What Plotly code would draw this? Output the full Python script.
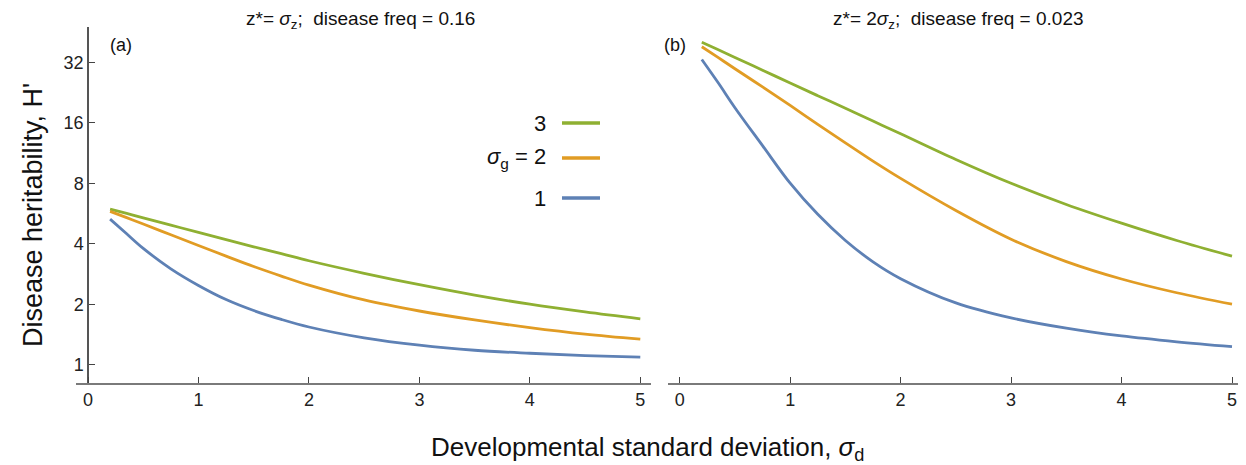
import math
import plotly.graph_objects as go

# ---------------- data ----------------
sigma_d = [0.2, 0.35, 0.5, 0.75, 1, 1.25, 1.5, 1.75, 2, 2.5, 3, 3.5, 4, 4.5, 5]

# panel (a): z* = sigma_z, disease freq = 0.16
a_g3 = [5.95, 5.66, 5.38, 4.95, 4.55, 4.19, 3.86, 3.57, 3.29, 2.85, 2.50, 2.22, 2.00, 1.83, 1.69]
a_g2 = [5.79, 5.39, 5.01, 4.43, 3.92, 3.47, 3.08, 2.76, 2.49, 2.10, 1.85, 1.67, 1.53, 1.42, 1.34]
a_g1 = [5.30, 4.48, 3.79, 3.00, 2.48, 2.11, 1.86, 1.68, 1.54, 1.36, 1.25, 1.18, 1.14, 1.11, 1.09]

# panel (b): z* = 2 sigma_z, disease freq = 0.023
b_g3 = [40.2, 36.9, 33.8, 29.2, 25.2, 21.8, 18.9, 16.3, 14.1, 10.5, 7.99, 6.27, 5.06, 4.15, 3.47]
b_g2 = [38.2, 33.7, 29.7, 24.1, 19.5, 15.7, 12.7, 10.3, 8.45, 5.85, 4.21, 3.26, 2.67, 2.28, 2.00]
b_g1 = [33.0, 25.2, 19.0, 12.3, 8.0, 5.6, 4.15, 3.25, 2.68, 2.03, 1.71, 1.52, 1.39, 1.30, 1.23]

x_ticks = [0, 1, 2, 3, 4, 5]
y_ticks = [1, 2, 4, 8, 16, 32]
legend_labels = ["3", "<i>σ</i><sub>g</sub> = 2", "1"]
colors = ["#8FB032", "#E19C24", "#5E81B5"]

titles = ["z*= <i>σ</i><sub>z</sub>;  disease freq = 0.16",
          "z*= 2<i>σ</i><sub>z</sub>;  disease freq = 0.023"]

W, H = 1246, 465
FONT = "Liberation Sans, Arial, sans-serif"

fig = go.Figure()

line_kw = dict(width=2.8, shape="spline", smoothing=1.0)
for series, col in zip([a_g3, a_g2, a_g1], colors):
    fig.add_trace(go.Scatter(x=sigma_d, y=series, mode="lines", line=dict(color=col, **line_kw),
                             xaxis="x", yaxis="y", showlegend=False, hoverinfo="skip"))
for series, col in zip([b_g3, b_g2, b_g1], colors):
    fig.add_trace(go.Scatter(x=sigma_d, y=series, mode="lines", line=dict(color=col, **line_kw),
                             xaxis="x2", yaxis="y2", showlegend=False, hoverinfo="skip"))

# geometry (pixels)
px_per_unit = 110.46
a_x0, b_x0 = 80.0, 671.7
y_bot, y_top = 374.5, 19
y_one, px_per_doubling = 356.7, 60.5
ylog_bot = math.log10(2 ** (-(y_bot - y_one) / px_per_doubling))
ylog_top = math.log10(2 ** ((y_one - y_top) / px_per_doubling))

def px(v):
    return v / W

def py(v):
    return 1 - v / H

xr = [-0.106, 5.095]
a_dom = [px(a_x0 + xr[0] * px_per_unit), px(a_x0 + xr[1] * px_per_unit)]
b_dom = [px(b_x0 + xr[0] * px_per_unit), px(b_x0 + xr[1] * px_per_unit)]
y_dom = [py(y_bot), py(y_top)]

axis_col = "#7a7a7a"
tick_font = dict(family=FONT, size=18, color="#222222")

common_x = dict(range=xr, tickvals=x_ticks, ticks="inside", ticklen=6, tickcolor="#444444", tickwidth=1,
                showline=True, linecolor=axis_col, linewidth=2, showgrid=False, zeroline=False,
                tickfont=tick_font)

fig.update_layout(
    width=W, height=H,
    margin=dict(l=0, r=0, t=0, b=0),
    plot_bgcolor="white", paper_bgcolor="white",
    xaxis=dict(domain=a_dom, anchor="y", **common_x),
    xaxis2=dict(domain=b_dom, anchor="y2", **common_x),
    yaxis=dict(domain=y_dom, type="log", range=[ylog_bot, ylog_top], anchor="free", position=px(a_x0),
               tickvals=y_ticks, ticktext=[str(t) for t in y_ticks], ticks="inside", ticklen=6,
               tickcolor="#444444", showline=True, linecolor="#555555", linewidth=1.5,
               showgrid=False, zeroline=False, tickfont=tick_font),
    yaxis2=dict(domain=y_dom, type="log", range=[ylog_bot, ylog_top], anchor="x2",
                showticklabels=False, ticks="", showline=False, showgrid=False, zeroline=False),
)

txt_col = "#111111"
ann = []
# panel titles
ann.append(dict(x=px(352), y=py(12), xref="paper", yref="paper", text=titles[0], showarrow=False,
                font=dict(family=FONT, size=19, color=txt_col), xanchor="center", yanchor="middle"))
ann.append(dict(x=px(950), y=py(12), xref="paper", yref="paper", text=titles[1], showarrow=False,
                font=dict(family=FONT, size=19, color=txt_col), xanchor="center", yanchor="middle"))
# panel letters
ann.append(dict(x=px(113), y=py(37), xref="paper", yref="paper", text="(a)", showarrow=False,
                font=dict(family=FONT, size=18, color=txt_col), xanchor="center", yanchor="middle"))
ann.append(dict(x=px(667), y=py(37), xref="paper", yref="paper", text="(b)", showarrow=False,
                font=dict(family=FONT, size=18, color=txt_col), xanchor="center", yanchor="middle"))
# axis titles
ann.append(dict(x=px(25), y=py(207), xref="paper", yref="paper", text="Disease heritability, H'", showarrow=False,
                textangle=-90, font=dict(family=FONT, size=27, color=txt_col), xanchor="center", yanchor="middle"))
ann.append(dict(x=px(640), y=py(440), xref="paper", yref="paper",
                text="Developmental standard deviation, <i>σ</i><sub>d</sub>", showarrow=False,
                font=dict(family=FONT, size=26, color=txt_col), xanchor="center", yanchor="middle"))

# legend
leg_y = [115, 150, 190]
shapes = []
for lab, col, yy in zip(legend_labels, colors, leg_y):
    ann.append(dict(x=px(540), y=py(yy), xref="paper", yref="paper", text=lab, showarrow=False,
                    font=dict(family=FONT, size=22, color=txt_col), xanchor="right", yanchor="middle"))
    shapes.append(dict(type="line", xref="paper", yref="paper", x0=px(554), x1=px(592), y0=py(yy), y1=py(yy),
                       line=dict(color=col, width=3.5)))

fig.update_layout(annotations=ann, shapes=shapes)
fig.write_html("out.html")
